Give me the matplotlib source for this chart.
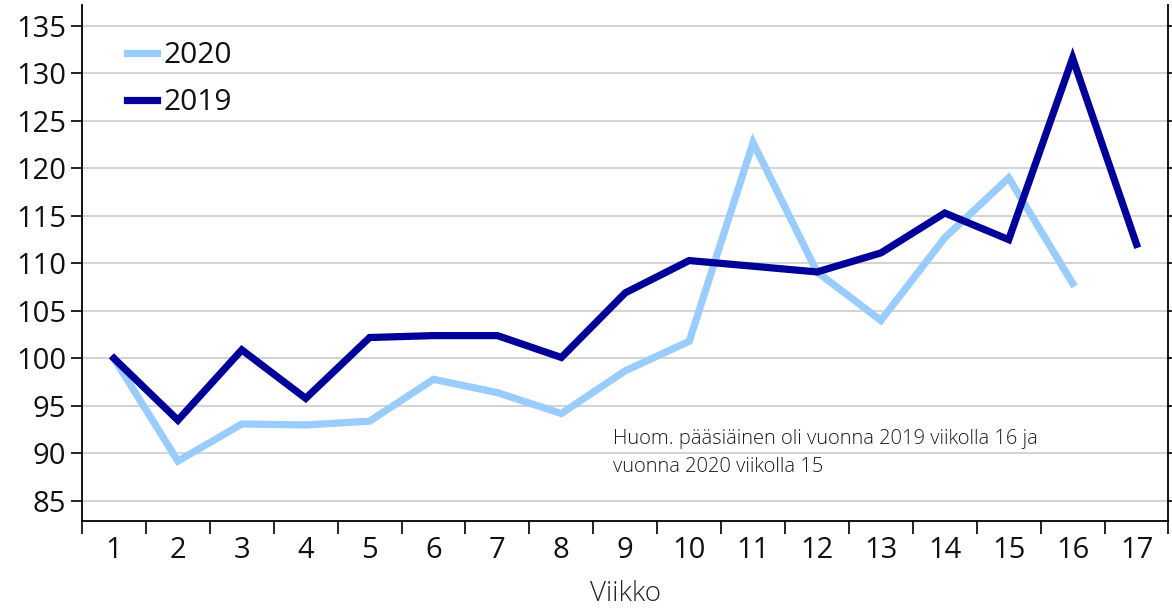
import matplotlib.pyplot as plt
import numpy as np

plt.rcParams['font.family'] = ['Open Sans', 'DejaVu Sans']

# Viikot ja indeksiarvot
weeks = list(range(1, 18))
values_2020 = [100, 89.2, 93.1, 93.0, 93.4, 97.8, 96.4, 94.2, 98.7, 101.8,
               122.7, 109.1, 104.0, 112.7, 119.0, 107.9]
values_2019 = [100, 93.5, 100.9, 95.8, 102.2, 102.4, 102.4, 100.1, 106.9, 110.3,
               109.7, 109.1, 111.1, 115.3, 112.5, 131.6, 112.0]
yticks = [85, 90, 95, 100, 105, 110, 115, 120, 125, 130, 135]

fig = plt.figure(figsize=(11.72, 6.10), dpi=100)
ax = fig.add_axes([0.07, 0.146, 0.927, 0.846])

x20 = np.arange(len(values_2020))
x19 = np.arange(len(values_2019))
ax.plot(x20, values_2020, color='#99CCFF', lw=5.2, label='2020', solid_joinstyle='miter')
ax.plot(x19, values_2019, color='#000099', lw=5.2, label='2019', solid_joinstyle='miter')

ax.set_xlim(-0.5, 16.5)
ax.set_ylim(82.9, 137.2)
ax.set_yticks(yticks)
ax.tick_params(axis='y', labelsize=21, length=8, width=1.2, right=True, direction='out',
               labelcolor='#111111')
ax.set_xticks(np.arange(-0.5, 17, 1))
ax.set_xticklabels([])
ax.set_xticks(x19, minor=True)
ax.set_xticklabels([str(w) for w in weeks], minor=True)
ax.tick_params(axis='x', which='major', length=9, width=1.2, direction='out')
ax.tick_params(axis='x', which='minor', length=0, labelsize=21, pad=11, labelcolor='#111111')

ax.grid(axis='y', color='#CCCCCC', lw=1.2)
ax.set_axisbelow(True)
for s in ['left', 'bottom', 'right']:
    ax.spines[s].set_linewidth(1.3)
ax.spines['top'].set_visible(False)

ax.set_xlabel('Viikko', fontsize=20, fontweight='light', labelpad=11, color='#222222')

leg = ax.legend(loc='upper left', bbox_to_anchor=(0.017, 0.982), frameon=False,
                fontsize=21.5, handlelength=1.0, handletextpad=0.2, labelspacing=0.6)
for t in leg.get_texts():
    t.set_color('#111111')

ax.text(0.489, 0.178, 'Huom. pääsiäinen oli vuonna 2019 viikolla 16 ja\nvuonna 2020 viikolla 15',
        transform=ax.transAxes, fontsize=14.5, fontweight='light', va='top', ha='left',
        linespacing=1.55, color='#1a1a1a')

fig.savefig('out.png', dpi=100)
